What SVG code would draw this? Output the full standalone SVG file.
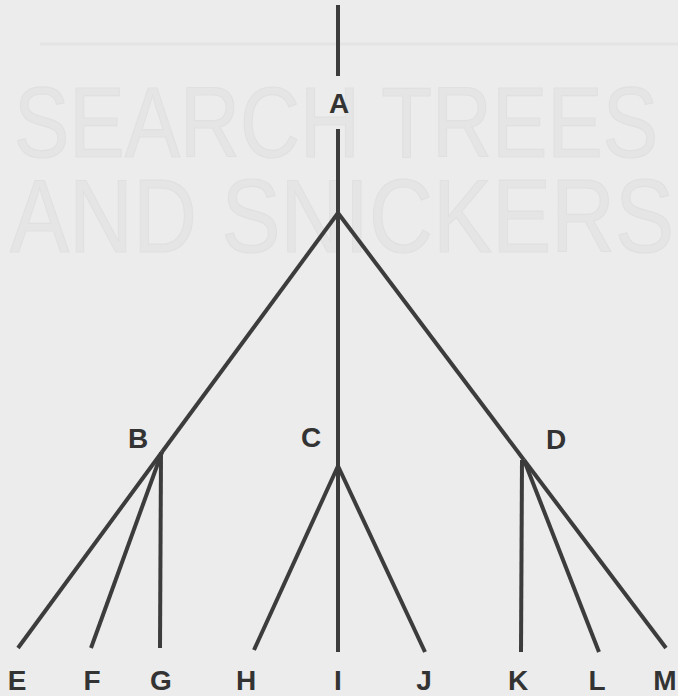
<svg xmlns="http://www.w3.org/2000/svg" width="678" height="696" viewBox="0 0 678 696">
<style>
.bg{fill:#ececec}
.ghost{font-family:"Liberation Sans",Arial,sans-serif;fill:#e5e5e5;stroke:#e0e0e0;stroke-width:1.2}
.edge{stroke:#3c3c3c;stroke-width:4;stroke-linecap:butt;fill:none}
.lbl{font-family:"Liberation Sans",Arial,Helvetica,sans-serif;font-weight:bold;font-size:28px;fill:#333;text-anchor:middle}
</style>
<rect class="bg" x="0" y="0" width="678" height="696"/>
<g id="ghost">
<line x1="40" y1="44" x2="678" y2="44" stroke="#e4e4e4" stroke-width="3"/>
<text class="ghost" x="14" y="157" font-size="100" textLength="644" lengthAdjust="spacingAndGlyphs">SEARCH TREES</text>
<text class="ghost" x="10" y="252" font-size="104" textLength="664" lengthAdjust="spacingAndGlyphs">AND SNICKERS</text>
</g>
<g id="connectors">
<line class="edge" x1="338" y1="5" x2="338" y2="76"/>
<line class="edge" x1="338" y1="129" x2="338" y2="213"/>
<line class="edge" x1="338" y1="213" x2="162" y2="452"/>
<line class="edge" x1="338" y1="213" x2="338" y2="466"/>
<line class="edge" x1="338" y1="213" x2="524" y2="460"/>
<line class="edge" x1="162" y1="452" x2="18" y2="648"/>
<line class="edge" x1="162" y1="452" x2="91" y2="648"/>
<line class="edge" x1="161" y1="452" x2="160" y2="648"/>
<line class="edge" x1="338" y1="466" x2="254" y2="650"/>
<line class="edge" x1="338" y1="466" x2="338" y2="652"/>
<line class="edge" x1="338" y1="466" x2="425" y2="652"/>
<line class="edge" x1="522" y1="460" x2="521" y2="652"/>
<line class="edge" x1="524" y1="460" x2="599" y2="652"/>
<line class="edge" x1="524" y1="460" x2="666" y2="648"/>
</g>
<g id="node-A"><text class="lbl" x="339" y="113">A</text></g>
<g id="node-B"><text class="lbl" x="138" y="448">B</text></g>
<g id="node-C"><text class="lbl" x="311" y="447">C</text></g>
<g id="node-D"><text class="lbl" x="556" y="449">D</text></g>
<g id="node-E"><text class="lbl" x="17" y="690">E</text></g>
<g id="node-F"><text class="lbl" x="92" y="690">F</text></g>
<g id="node-G"><text class="lbl" x="161" y="690">G</text></g>
<g id="node-H"><text class="lbl" x="246" y="690">H</text></g>
<g id="node-I"><text class="lbl" x="338" y="690">I</text></g>
<g id="node-J"><text class="lbl" x="424" y="690">J</text></g>
<g id="node-K"><text class="lbl" x="518" y="690">K</text></g>
<g id="node-L"><text class="lbl" x="597" y="690">L</text></g>
<g id="node-M"><text class="lbl" x="665" y="690">M</text></g>
</svg>
